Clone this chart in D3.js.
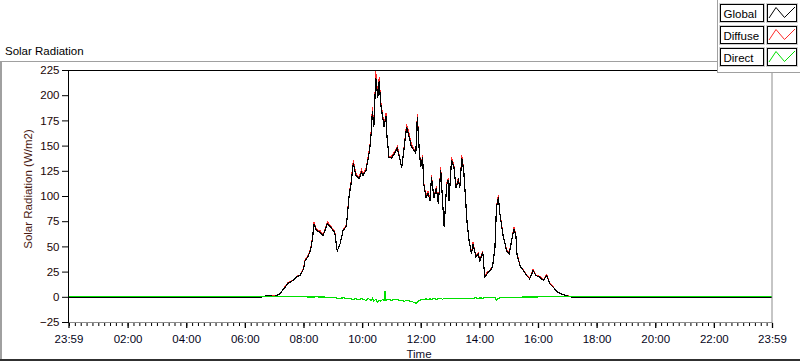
<!DOCTYPE html>
<html>
<head>
<meta charset="utf-8">
<style>
  body { margin: 0; background: #fff; }
  svg { display: block; font-family: "Liberation Sans", Arial, sans-serif; }
</style>
<script src="https://cdn.jsdelivr.net/npm/d3@7"></script>
</head>
<body>
<svg class="chart" width="800" height="361"></svg>
<script>
  // readings (time of day, W/m2)
  var times = ["00:00","06:11","06:32","06:46","07:03","07:13","07:20","07:30","07:40","07:47",
    "07:54","08:01","08:04","08:11","08:16","08:20","08:22","08:28","08:35","08:41",
    "08:50","08:59","09:05","09:10","09:16","09:22","09:29","09:31","09:35","09:38",
    "09:43","09:48","09:55","10:00","10:03","10:09","10:14","10:17","10:20","10:22",
    "10:25","10:29","10:33","10:36","10:39","10:43","10:46","10:48","10:50","10:52",
    "10:56","11:01","11:08","11:13","11:18","11:22","11:27","11:32","11:37","11:42",
    "11:47","11:51","11:54","11:58","12:01","12:05","12:07","12:12","12:16","12:20",
    "12:23","12:28","12:33","12:37","12:42","12:46","12:49","12:54","12:57","12:59",
    "13:04","13:09","13:13","13:18","13:21","13:25","13:29","13:33","13:36","13:40",
    "13:45","13:48","13:54","13:59","14:02","14:08","14:12","14:17","14:23","14:28",
    "14:33","14:36","14:40","14:43","14:46","14:50","14:57","15:02","15:07","15:12",
    "15:16","15:18","15:24","15:31","15:38","15:44","15:51","15:57","16:05","16:12",
    "16:19","16:25","16:32","16:42","16:52","17:06","17:16","23:59"];

  var globalRad = [0,0,0,1.5,1,3.5,8,14,17,20.5,
    21.5,28,36,41,48,60,73,66,64.5,61,
    73,68,64.5,46,53,66,71,83,103,111,
    133,121,118,124,121,126,139,149,165,185,
    169,218,198,215,192,179,169,175,180,159,
    139,138,143,148,138,128,148,169,160,149,
    146,143,179,146,129,139,113,99,103,96,
    119,99,108,93,126,93,70,111,116,96,
    136,129,109,116,109,138,126,96,73,56,
    43,53,40,43,36,45,20,23.5,26.5,30,
    50,89,99,83,73,60,46,43,56,68,
    60,43,31.5,26.5,21.5,18.3,26.5,21.5,20,16.7,
    21.6,13.4,10,5,2.8,0.5,0,0];

  var diffuseRad = [0,0,0,1.5,1.5,3.5,8.5,15,17,21,
    22,28.5,37,42,49,61,75,67,66,62,
    75,69,66,46,53,67,72,84,105,113,
    136,123,119,127,122,128,141,151,168,189,
    171,224,201,219,195,182,171,177,183,161,
    140,140,145,150,139,129,150,172,163,152,
    147,144,182,148,131,141,114,101,105,97,
    121,100,110,94,129,94,71,113,118,97,
    139,131,110,118,110,141,128,97,75,57,
    44,55,41,44,37,46,21,25,27,31,
    51,91,101,84,74,61,47,44,57,70,
    61,44,32,27,22,19,28,22,21,17,
    23,14,10.5,5,3,1,0,0];

  var directRad = [0.7,0.7,0.7,0.5,0.7,0.7,0.5,0.5,0.7,0.7,
    0.5,0.5,0.5,0.3,0.3,0.3,0.3,0.5,0.3,0.3,
    0,0,0,-1,-1,-0.5,-1,-1,-1.5,-1.5,
    -2,-1.5,-2.5,-1,-2,-3,-1,-2.5,-3,-1,
    -4,-2,-5,-3,-4,-2,-3,6.5,-3,-2,
    -2,-3,-2,-2.5,-3,-3,-4,-3,-3.5,-4,
    -5,-6,-5,-3,-2.5,-2,-2,-1.5,-2.5,-1.5,
    -2,-1,-2,-1.5,-1,-2,-1,-1.5,-1,-1.5,
    -1,-1.5,-1,-1.5,-1,-1,-1.5,-1,-1,-1,
    -1,-1,-0.5,-1,-0.5,-1,-0.5,-0.5,-0.5,-0.5,
    -0.5,-3,-1,-0.5,0,0,0,0,0,0,
    0,0,0,0.3,0.3,0.3,0.3,0.3,0.5,0.5,
    0.5,0.5,0.5,0.7,0.7,0.7,0.7,0.7];

  var xTickLabels = ["23:59","02:00","04:00","06:00","08:00","10:00","12:00",
    "14:00","16:00","18:00","20:00","22:00","23:59"];
  var yTicks = [-25, 0, 25, 50, 75, 100, 125, 150, 175, 200, 225];
  var seriesNames = ["Global", "Diffuse", "Direct"];
  var seriesColors = ["#000000", "#ff2a2a", "#00e000"];

  var parse = d3.timeParse("%H:%M");
  var start = d3.timeMinute.offset(parse("00:00"), -1),
      end = parse("23:59");

  var data = times.map(function(t, i) {
    return { t: parse(t), g: globalRad[i], f: diffuseRad[i], d: directRad[i] };
  });

  var pLeft = 68, pRight = 771.5, pTop = 70, pBottom = 322;

  var x = d3.scaleTime()
      .domain([start, end])
      .range([pLeft, pRight]);

  var y = d3.scaleLinear()
      .domain([-25, 225])
      .range([pBottom + 0.5, pTop + 0.5]);

  var svg = d3.select(".chart");
  var font = "'Liberation Sans', Arial, sans-serif";

  // outer frame
  svg.append("rect").attr("x", 0).attr("y", 61).attr("width", 717).attr("height", 1).attr("fill", "#a0a0a0");
  svg.append("rect").attr("x", 0).attr("y", 61).attr("width", 2).attr("height", 299).attr("fill", "#a0a0a0");
  svg.append("rect").attr("x", 0).attr("y", 359).attr("width", 800).attr("height", 2).attr("fill", "#303030");

  svg.append("text")
      .attr("x", 5).attr("y", 55)
      .attr("font-size", 11.5)
      .attr("fill", "#000")
      .text("Solar Radiation");

  // data lines: diffuse under global, direct on top
  var plot = svg.append("g");
  plot.append("path").datum(data)
      .attr("d", d3.line().x(function(d) { return x(d.t); }).y(function(d) { return y(d.f); }))
      .attr("fill", "none").attr("stroke", seriesColors[1]).attr("stroke-width", 1)
      .attr("shape-rendering", "crispEdges");
  plot.append("path").datum(data)
      .attr("d", d3.line().x(function(d) { return x(d.t); }).y(function(d) { return y(d.g); }))
      .attr("fill", "none").attr("stroke", seriesColors[0]).attr("stroke-width", 1.2)
      .attr("shape-rendering", "crispEdges");
  plot.append("path").datum(data)
      .attr("d", d3.line().x(function(d) { return x(d.t); }).y(function(d) { return y(d.d); }))
      .attr("fill", "none").attr("stroke", seriesColors[2]).attr("stroke-width", 1.2)
      .attr("shape-rendering", "crispEdges");

  // plot border: top/left dark, bottom/right grey
  svg.append("line").attr("x1", pLeft).attr("x2", pRight + 1).attr("y1", pTop + 0.5).attr("y2", pTop + 0.5).attr("stroke", "#000");
  svg.append("line").attr("x1", pLeft + 0.5).attr("x2", pLeft + 0.5).attr("y1", pTop).attr("y2", pBottom + 1).attr("stroke", "#000");
  svg.append("line").attr("x1", pLeft + 1).attr("x2", pRight + 1).attr("y1", pBottom + 0.5).attr("y2", pBottom + 0.5).attr("stroke", "#8c8c8c");
  svg.append("line").attr("x1", pRight + 0.5).attr("x2", pRight + 0.5).attr("y1", pTop).attr("y2", pBottom + 1).attr("stroke", "#8c8c8c");

  // y axis
  var yAxis = svg.append("g")
      .attr("transform", "translate(" + pLeft + ",-0.5)")
      .call(d3.axisLeft(y).tickValues(yTicks).tickSize(6).tickPadding(2.5));
  yAxis.select(".domain").remove();
  yAxis.attr("font-family", font).attr("font-size", 11.5);
  yAxis.selectAll("text").attr("fill", "#1a0505");

  // x axis, major + minor ticks
  var majors = [start].concat(d3.timeHour.every(2).range(parse("02:00"), end)).concat([end]);
  var minors = d3.timeMinute.every(12).range(parse("00:00"), end);

  var xMinor = svg.append("g")
      .attr("transform", "translate(0.5," + (pBottom + 1) + ")")
      .call(d3.axisBottom(x).tickValues(minors).tickSize(3).tickFormat(""));
  xMinor.select(".domain").remove();

  var xAxis = svg.append("g")
      .attr("transform", "translate(0.5," + (pBottom + 1) + ")")
      .call(d3.axisBottom(x).tickValues(majors).tickSize(5).tickPadding(6.5)
        .tickFormat(function(d, i) { return xTickLabels[i]; }));
  xAxis.select(".domain").remove();
  xAxis.attr("font-family", font).attr("font-size", 11.5);
  xAxis.selectAll("line").attr("stroke-width", 1.3);
  xAxis.selectAll("text").attr("fill", "#05051a");

  // axis names
  svg.append("text")
      .attr("transform", "translate(32,189) rotate(-90)")
      .attr("text-anchor", "middle")
      .attr("font-size", 11.5)
      .attr("fill", "#4a1a12")
      .text("Solar Radiation (W/m2)");

  svg.append("text")
      .attr("x", 419).attr("y", 357.5)
      .attr("text-anchor", "middle")
      .attr("font-size", 11.5)
      .attr("fill", "#10102a")
      .text("Time");

  // legend panel
  svg.append("rect")
      .attr("x", 717.5).attr("y", -1).attr("width", 90).attr("height", 73.5)
      .attr("fill", "#fff").attr("stroke", "#a0a0a0");

  var leg = svg.selectAll("g.leg")
      .data(seriesNames)
    .enter().append("g")
      .attr("class", "leg")
      .attr("transform", function(d, i) { return "translate(0," + (4.5 + i * 22) + ")"; });

  leg.append("rect")
      .attr("x", 719.5).attr("y", -1).attr("width", 45).attr("height", 19)
      .attr("fill", "none").attr("stroke", "#d0d0d0");
  leg.append("rect")
      .attr("x", 720.5).attr("width", 43).attr("height", 17)
      .attr("fill", "#fff").attr("stroke", "#000");
  leg.append("text")
      .attr("x", 723.5).attr("y", 13)
      .attr("font-size", 11.5)
      .attr("fill", "#000")
      .text(function(d) { return d; });

  leg.append("rect")
      .attr("x", 766.5).attr("y", -1).attr("width", 31).attr("height", 19)
      .attr("fill", "none").attr("stroke", "#d0d0d0");
  leg.append("rect")
      .attr("x", 767.5).attr("width", 29).attr("height", 17)
      .attr("fill", "#fff").attr("stroke", "#000");
  leg.append("polyline")
      .attr("points", "769,13.5 776,3 784.5,13 795,2.5")
      .attr("fill", "none")
      .attr("stroke", function(d, i) { return seriesColors[i]; });
</script>
</body>
</html>
